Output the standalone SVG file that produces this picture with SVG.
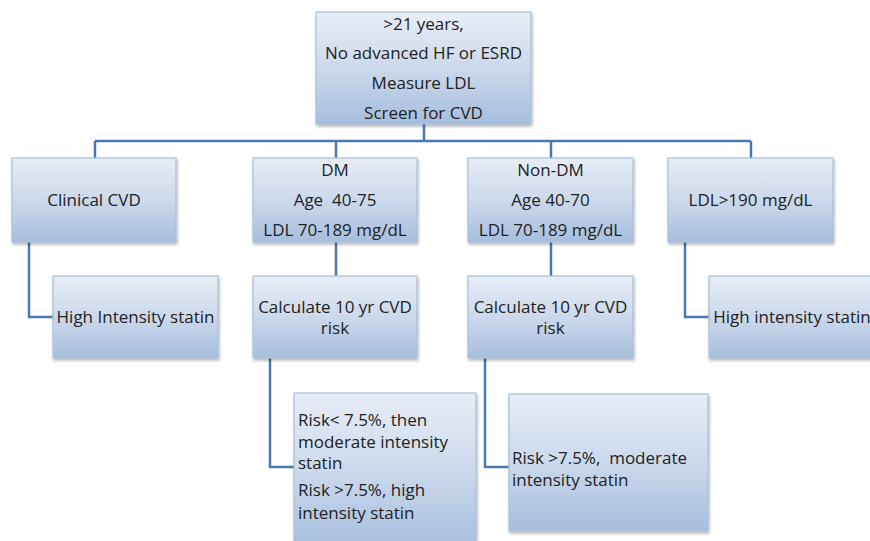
<svg xmlns="http://www.w3.org/2000/svg" width="870" height="541" viewBox="0 0 870 541">
<style>
.box{fill:url(#g);stroke:#a9bfd8;stroke-width:1.2;filter:url(#sh)}
.t{font-family:"Open Sans","Liberation Sans",sans-serif;font-size:17px;fill:#222;white-space:pre}
.c{text-anchor:middle}
.ln{fill:none;stroke:#4a78b0;stroke-width:2.5}
</style>
<defs>
<linearGradient id="g" x1="0" y1="0" x2="0" y2="1">
<stop offset="0" stop-color="#e7edf6"/>
<stop offset="0.5" stop-color="#ccd9ec"/>
<stop offset="1" stop-color="#a6bedd"/>
</linearGradient>
<filter id="sh" x="-10%" y="-10%" width="125%" height="125%">
<feGaussianBlur in="SourceAlpha" stdDeviation="1.5"/>
<feOffset dx="1" dy="2" result="o"/>
<feComponentTransfer><feFuncA type="linear" slope="0.3"/></feComponentTransfer>
<feMerge><feMergeNode/><feMergeNode in="SourceGraphic"/></feMerge>
</filter>
</defs>
<g id="connectors">
<path class="ln" d="M424 124V141M95 141H751M95 141V158M336 141V158M551 141V158M751 141V158"/>
<path class="ln" d="M29 242V317H53"/>
<path class="ln" d="M336 242V276"/>
<path class="ln" d="M551 242V276"/>
<path class="ln" d="M685 242V317H709"/>
<path class="ln" d="M270 358V467H294"/>
<path class="ln" d="M485 358V467H509"/>
</g>
<g id="root">
<rect class="box" x="316" y="12" width="215" height="112"/>
<text class="t c" x="423.5" y="30">&gt;21 years,</text>
<text class="t c" x="423.5" y="59">No advanced HF or ESRD</text>
<text class="t c" x="423.5" y="89">Measure LDL</text>
<text class="t c" x="423.5" y="119">Screen for CVD</text>
</g>
<g id="clinical">
<rect class="box" x="12" y="158" width="164" height="84"/>
<text class="t c" x="94" y="206">Clinical CVD</text>
</g>
<g id="dm">
<rect class="box" x="253" y="158" width="164" height="84"/>
<text class="t c" x="335" y="176">DM</text>
<text class="t c" x="335" y="206">Age  40-75</text>
<text class="t c" x="335" y="236">LDL 70-189 mg/dL</text>
</g>
<g id="nondm">
<rect class="box" x="468" y="158" width="165" height="84"/>
<text class="t c" x="550.5" y="176">Non-DM</text>
<text class="t c" x="550.5" y="206">Age 40-70</text>
<text class="t c" x="550.5" y="236">LDL 70-189 mg/dL</text>
</g>
<g id="ldl190">
<rect class="box" x="668" y="158" width="165" height="84"/>
<text class="t c" x="750.5" y="206">LDL&gt;190 mg/dL</text>
</g>
<g id="high1">
<rect class="box" x="53" y="276" width="165" height="82"/>
<text class="t c" x="135.5" y="323">High Intensity statin</text>
</g>
<g id="calc1">
<rect class="box" x="253" y="276" width="164" height="82"/>
<text class="t c" x="335" y="313">Calculate 10 yr CVD</text>
<text class="t c" x="335" y="334">risk</text>
</g>
<g id="calc2">
<rect class="box" x="468" y="276" width="165" height="82"/>
<text class="t c" x="550.5" y="313">Calculate 10 yr CVD</text>
<text class="t c" x="550.5" y="334">risk</text>
</g>
<g id="high2">
<rect class="box" x="709" y="276" width="166" height="82"/>
<text class="t c" x="792" y="323">High intensity statin</text>
</g>
<g id="risk1">
<rect class="box" x="294" y="393" width="182" height="155"/>
<text class="t" x="298" y="426">Risk&lt; 7.5%, then</text>
<text class="t" x="298" y="448">moderate intensity</text>
<text class="t" x="298" y="469">statin</text>
<text class="t" x="298" y="496">Risk &gt;7.5%, high</text>
<text class="t" x="298" y="519">intensity statin</text>
</g>
<g id="risk2">
<rect class="box" x="509" y="394" width="199" height="137"/>
<text class="t" x="512" y="464">Risk &gt;7.5%,  moderate</text>
<text class="t" x="512" y="486">intensity statin</text>
</g>
</svg>
